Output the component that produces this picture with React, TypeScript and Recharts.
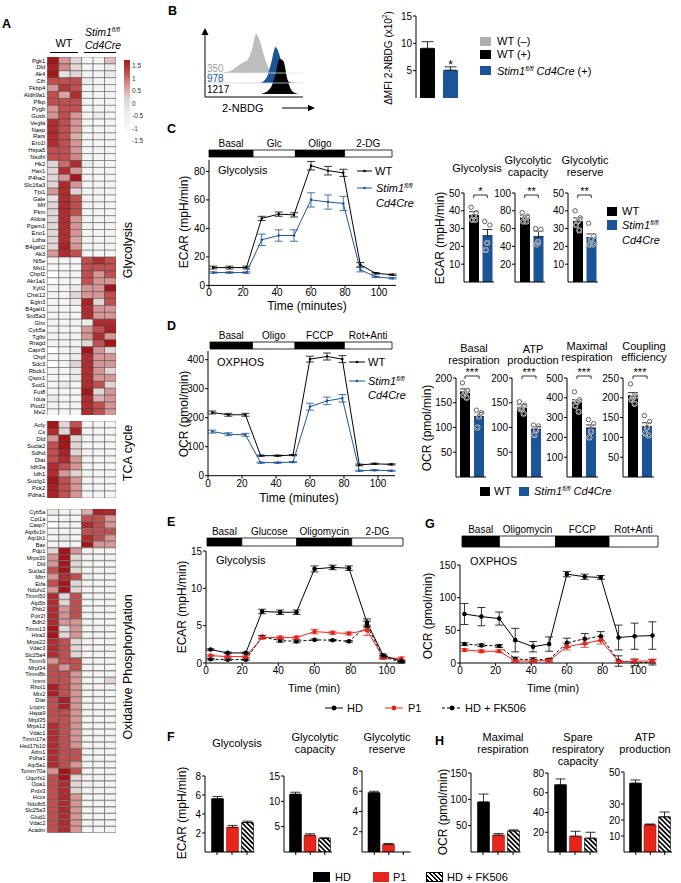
import React from 'react';
import {
  BarChart, Bar, XAxis, YAxis, LineChart, Line, ErrorBar, ComposedChart, Cell,
  AreaChart, Area, ReferenceLine,
} from 'recharts';

const FONT = '"Liberation Sans", Arial, Helvetica, sans-serif';
const NARROW = '"Liberation Sans Narrow", "Liberation Sans", Arial, sans-serif';
const BLUE = '#1b5597';
const RED = '#e6261c';

/* ---------------- Panel A: heatmap ---------------- */
const heatCols = ['WT1', 'WT2', 'WT3', 'KO1', 'KO2', 'KO3'];
const glyGenes = ['Pgk1','Dld','Ak4','Cth','Fkbp4','Aldh9a1','Pfkp','Pygb','Gusb','Vegfa','Nasp','Rars','Ero1l','Hspa5','Nsdhl','Hk2','Hax1','P4ha2','Slc16a3','Tpi1','Gale','Mif','Pkm','Aldoa','Pgam1','Eno1','Ldha','B4galt2','Ak3','Nt5e','Mxi1','Chpf2','Akr1a1','Xylt2','Chst12','Egln3','B4galt1','Srd5a3','Glrx','Cyb5a','Tgfbi','Rragd','Capn5','Chpf','Sdc3','Rbck1','Qsox1','Sod1','Fut8','Idua','Plod2','Me2'];
const glyVals = [
  [1.5,0.5,0,-1,-1,0.2],[1.4,0.6,0,-1,-1,-0.5],[1.5,-0.3,0,-1,-1,-0.5],[1,1,1,-0.5,-1,-1],
  [0.5,1.2,1,-1,-1,-1],[1,0.4,1.3,-1,-1,-1],[1,1,1,-1,-1,-1],[0.5,1,1,-1,-1,-1],
  [0.5,1,0.5,-1,-0.5,-1],[1.3,1,0.5,-1,-1,-1],[1.3,1,0.5,-1,-1,-1],[1.3,1,0.3,-1,-1,-1],
  [1.3,1,0.5,-1,-1,-1],[1,1,0.5,-1,-1,-1],[1,1,0.6,-1,-1,-1],[0,0.8,1.3,-0.5,-1,-1],
  [0,1.3,0.5,-1,-1,-1],[0,0.5,1.5,-1,-1,-1],[0,1.3,0.5,-1,-1,-1],[0.5,1.3,0,-1,-1,-1],
  [-0.3,1.3,1,-1,-1,-1],[0,1.3,1,-1,-1,-1],[0,1.3,1,-1,-1,-1],[0,1.3,0.5,-1,-1,-1],
  [0,1.3,0.5,-1,-1,-1],[0,1.3,0.5,-1,-1,-1],[0,1.3,0.4,-1,-1,-1],[0,1.4,0.5,-1,-1,-1],
  [0.5,1.3,1,-1,-1,-1],
  [-1,-1,-1,1,1.3,1],[-1,-1,-1,1,1,1],[-1.5,-1,-1,1,0.5,1],[-1.5,-1,-1,1,0.5,0.5],
  [-1,-1,-0.5,0.5,0.5,1.5],[-1,-1,0,0.5,0.5,1],[-1,-1,-0.5,1.4,0,1],[-1,-1,-1,1.3,0.5,0.5],
  [-1,-1,-1,1.3,0.5,0.5],[-1,-1,-1,-0.5,1.3,1.3],[-1,-1,-1,0.5,1,1.4],[-1,-1,-1,0.5,1.3,0.5],
  [-1,-1,-1,0,1,1.5],[-1.5,-1,-0.5,1.5,0.5,0],[-1,-1,-0.5,1.3,0.5,0.5],[-1.5,-1,0,1.3,0.5,0.5],
  [-1,-1,-0.5,1.3,0.5,0],[-1,-1,-0.5,1.3,0.5,0.5],[-1,-0.5,-1,1.3,1,0],[-1,-1,-1,1.5,0,0.5],
  [-0.5,-1,-1,1.3,0.3,0.5],[-1,-1,-1,1.3,1,0.5],[-1,-1,-1,1.3,1,0.5],
];
const tcaGenes = ['Acly','Cs','Dld','Sucla2','Sdhd','Dlat','Idh3a','Idh1','Suclg1','Pck2','Pdha1'];
const tcaVals = [
  [1.5,0,1,-1,-1,-1],[1.3,0,1.4,-1,-1,-1],[0.5,1.5,0,-1,-1,-1],[1,1.5,0,-1,-1,-1],
  [1,1.4,0,-1,-1,-1],[1,1.3,0.5,-1,-1,-1],[1.3,1,0.5,-1,-1,-1],[1.3,0.5,0,-1,-1,-1],
  [1.5,1,0.5,-1,-1,-1],[1.4,1,0.5,-1,-1,-1],[1.4,1,0.5,-1,-1,-1],
];
const oxGenes = ['Cyb5a','Cpt1a','Casp7','Atp6v1h','Atp1b1','Bax','Pdp1','Mrps30','Dld','Sucla2','Mtrr','Etfa','Ndufv2','Timm50','Atp5b','Phb2','Polr2f','Bdh2','Timm13','Htra2','Mrps22','Vdac3','Slc25a4','Timm9','Mrpl34','Timm8b','Immt','Rhot1','Mtx2','Dlat','Lrpprc','Hspa9','Mrpl35','Mrps12','Vdac1','Timm17a','Hsd17b10','Aifm1','Pdha1','Atp5a1','Tomm70a','Uqcrfs1','Opa1','Prdx3','Hccs','Ndufb5','Slc25a3','Glud1','Vdac2','Acadm'];
const oxVals = [
  [-0.5,-1,-1,0.3,1.4,1.3],[-1,-1,-1,1,1,0.5],[-1.5,-1,-1,1.3,1,0.5],[-1,-1,-1,1,1,1],
  [-1,-0.5,-1,1.3,1,0.5],[-1,-1,-1,1.5,0.5,0.5],[0,1.5,0.5,-1,-1,-1],[0.5,1.5,0,-1,-1,-1],
  [0.5,1.5,0,-1,-1,-1],[1,1.5,0,-1,-1,-1],[0.5,1.3,1,-0.5,-1,-1],[1,1.5,0,-1,-1,-1],
  [0.5,1.5,0,-1,-1,-1],[1.3,0,1,-1,-1,-1],[1.3,0,1,-1,-1,-1],[1.3,0.5,1,-1,-1,-1],
  [1.3,0.5,1,-1,-1,-1],[1.3,0.5,0.5,-1,-1,-1],[1.5,0,0.5,-1,-1,-1],[1.5,0,0.5,-1,-1,-1],
  [1.3,1,0,-1,-1,-1],[1.3,1,0,-1,-1,-1],[1.3,1,0,-1,-1,-1],[0.5,1,1,-1,-1,-1],
  [1,0.5,1,-1,-1,-1],[1,1,0.5,-1,-1,-1],[1,1,0.5,-1,-1,0],[1.4,1,0.5,-1,-1,-1],
  [1.4,1,0.5,-1,-1,-1],[1,1.4,0.5,-1,-1,-1],[1,1.4,0.5,-1,-1,-1],[1,1,0.5,-1,-1,-1],
  [1,1,0.5,-1,-1,-1],[1.3,1,0.5,-1,-1,-1],[1.3,1,0.5,-1,-1,-1],[1.3,1,0.5,-1,-1,-1],
  [1.3,1,0.5,-1,-1,-1],[1.3,1,1,-1,-1,-1],[1.3,1,1,-1,-1,-1],[1.3,1,0.5,-1,-1,-1],
  [0.5,1.5,1,-1,-1,-1],[1,1.5,0,-1,-1,-1],[1,1.3,0,-1,-1,-1],[1,1.3,0,-1,-1,-1],
  [1,1.3,0.5,-1,-1,-1],[1,1.3,0.5,-1,-1,-1],[1,1.3,0.5,-1,-1,-1],[1,1.3,0.5,-1,-1,-1],
  [1,1.3,0.5,-1,-1,-1],[1,1.3,0.5,-1,-1,-1],
];
const heatLegendTicks = ['1.5', '1', '0.5', '0', '-0.5', '-1', '-1.5'];
const heatStops = [-1.5, -1, -0.5, 0, 0.5, 1, 1.5];
const heatPalette = ['#ffffff', '#f4f4f4', '#ebebeb', '#e2d5d5', '#d69696', '#c0504f', '#a3161a'];

/* ---------------- Panel B ---------------- */
const nbdgX = [0,4,8,12,16,20,24,28,32,36,40,44,48,52,56,60,64,68,72,76,80,84,88,92,96,100];
const nbdgNeg = [0,0,0,0,0,0.5,1.5,3,6,9,11,14,24,39,32,18,7,2,0.5,0,0,0,0,0,0,0];
const nbdgKO = [0,0,0,0,0,0,0,0,0,0,0,0,0,0,0,2,8,22,36,28,12,3,0.5,0,0,0];
const nbdgWT = [0,0,0,0,0,0,0,0,0,0,0,0,0,0,0,1,3,8,20,35,33,15,4,1,0,0];
const histOffsets = [24, 14, 3];
const mfiLabels = ['350', '978', '1217'];
const bGroups = ['WT', 'KO'];
const bMeans = [9.1, 5.1];
const bErrs = [1.2, 0.6];

/* ---------------- Time courses ---------------- */
const times = [2.5, 12, 22, 31, 41, 50, 60, 70, 79, 89, 98, 108];
const cWT = [12.5,12.5,12.5,47,50,49.5,84,80.5,79,14.5,8.5,7.5];
const cWTerr = [1,1,1,1.5,1.5,1.5,3,3,2.5,1.5,0.5,0.5];
const cKO = [9,9,9,32,35,35,60,58.5,57.5,11,6,5];
const cKOerr = [0.5,0.5,0.5,4,4,4,5,5,5,1.5,0.5,0.5];
const dWT = [218,210,210,69,69,71,402,411,402,37,41,39];
const dWTerr = [5,5,5,2,2,2,10,12,12,3,2,2];
const dKO = [152,143,141,45,45,47,238,258,267,17,19,17];
const dKOerr = [5,5,5,2,2,2,12,13,13,2,2,2];
const eHD = [1.8,1.35,1.35,6.9,6.8,6.8,12.6,12.8,12.7,5.4,1.0,0.25];
const eHDerr = [0.1,0.1,0.1,0.3,0.3,0.3,0.4,0.3,0.3,0.5,0.2,0.1];
const eP1 = [1.0,0.85,0.85,3.4,3.4,3.4,4.2,4.05,3.95,4.4,0.7,0.6];
const eP1err = [0.1,0.1,0.1,0.2,0.2,0.2,0.3,0.2,0.2,0.7,0.2,0.2];
const eFK = [0.5,0.45,0.45,3.5,3.0,2.9,3.1,3.05,2.9,5.0,0.8,0.1];
const eFKerr = [0.1,0.1,0.1,0.2,0.2,0.2,0.1,0.1,0.1,0.6,0.2,0.1];
const gHD = [75,71,68,35,25,29,136,132,131,39,41,42];
const gHDerr = [16,14,10,18,8,11,4,4,3,19,20,21];
const gP1 = [20,18,18,3,3,3.5,25,30,35,2,3,3];
const gP1err = [2,2,2,2,2,2,5,6,6,2,3,3];
const gFK = [29,27,26,6,5,5,31,37,41,3,1,1];
const gFKerr = [2,2,2,3,3,2,7,8,7,8,5,4];

const drugC = [26, 25, 29, 28];
const drugCLabels = ['Basal', 'Glc', 'Oligo', '2-DG'];
const drugD = [25, 25, 29, 28];
const drugDLabels = ['Basal', 'Oligo', 'FCCP', 'Rot+Anti'];
const drugE = [19, 30, 30, 28];
const drugELabels = ['Basal', 'Glucose', 'Oligomycin', '2-DG'];
const drugG = [21, 31.5, 30, 27.5];
const drugGLabels = ['Basal', 'Oligomycin', 'FCCP', 'Rot+Anti'];

/* ---------------- C / D bar summaries ---------------- */
const cGlyWT = { mean: 37.5, err: 2, dots: [42, 39, 37, 35, 35] };
const cGlyKO = { mean: 26, err: 3.5, dots: [34, 32, 22, 18] };
const cCapWT = { mean: 72, err: 3, dots: [78, 74, 72, 68, 68] };
const cCapKO = { mean: 51, err: 6, dots: [60, 59, 45, 42] };
const cResWT = { mean: 34, err: 2, dots: [40, 36, 34, 32, 29] };
const cResKO = { mean: 25, err: 2, dots: [33, 26, 24, 21, 21] };
const dBasWT = { mean: 172, err: 6, dots: [190, 175, 170, 165, 160] };
const dBasKO = { mean: 122, err: 8, dots: [135, 130, 122, 100] };
const dAtpWT = { mean: 140, err: 6, dots: [152, 145, 138, 137, 128] };
const dAtpKO = { mean: 97, err: 5, dots: [105, 103, 95, 85] };
const dMaxWT = { mean: 378, err: 12, dots: [430, 390, 380, 360, 330] };
const dMaxKO = { mean: 248, err: 15, dots: [290, 270, 230, 200] };
const dCouWT = { mean: 205, err: 8, dots: [235, 205, 200, 195, 185] };
const dCouKO = { mean: 127, err: 10, dots: [155, 140, 125, 110, 105] };

/* ---------------- F / H ---------------- */
const triGroups = ['HD', 'P1', 'HD + FK506'];
const fGlyMean = [5.6, 2.6, 3.1];
const fGlyErr = [0.25, 0.2, 0.15];
const fCapMean = [11.4, 3.3, 2.7];
const fCapErr = [0.4, 0.3, 0.1];
const fResMean = [5.85, 0.75, 0];
const fResErr = [0.15, 0.1, 0];
const hMaxMean = [95, 32, 40];
const hMaxErr = [15, 3, 2];
const hSpareMean = [68, 16, 14];
const hSpareErr = [6, 5, 6];
const hAtpMean = [43, 17, 22];
const hAtpErr = [2, 0.5, 3];

/* ---------------- helpers ---------------- */
function hexToRgb(h: string) {
  return [parseInt(h.slice(1, 3), 16), parseInt(h.slice(3, 5), 16), parseInt(h.slice(5, 7), 16)];
}
function heatColor(v: number) {
  const x = Math.max(-1.5, Math.min(1.5, v));
  let i = 0;
  while (i < heatStops.length - 2 && x > heatStops[i + 1]) i++;
  const t = (x - heatStops[i]) / (heatStops[i + 1] - heatStops[i]);
  const a = hexToRgb(heatPalette[i]);
  const b = hexToRgb(heatPalette[i + 1]);
  return `rgb(${a.map((c, k) => Math.round(c + (b[k] - c) * t)).join(',')})`;
}

function Txt({ x, y, s = 11, a = 'middle', children, style }: any) {
  const tx = a === 'middle' ? '-50%' : a === 'end' ? '-100%' : '0';
  return (
    <div style={{ position: 'absolute', left: x, top: y, transform: `translate(${tx},-50%)`, fontSize: s, lineHeight: 1, whiteSpace: 'nowrap', ...style }}>
      {children}
    </div>
  );
}
function VTxt({ x, y, s = 12, children }: any) {
  return (
    <div style={{ position: 'absolute', left: x, top: y, transform: 'translate(-50%,-50%) rotate(-90deg)', fontSize: s, lineHeight: 1, whiteSpace: 'nowrap' }}>
      {children}
    </div>
  );
}
function Letter({ x, y, children }: any) {
  return <div style={{ position: 'absolute', left: x, top: y, fontSize: 12.5, fontWeight: 'bold', lineHeight: 1 }}>{children}</div>;
}
const Stim = ({ cre = false }: any) => (
  <span>
    <i>Stim1</i>
    <span style={{ fontSize: '0.6em', position: 'relative', top: '-0.6em' }}><i>fl/fl</i></span>
    {cre ? <i> Cd4Cre</i> : null}
  </span>
);
function Square({ x, y, w = 11, h = 10, color, hatch = false }: any) {
  return (
    <div style={{
      position: 'absolute', left: x, top: y, width: w, height: h,
      background: hatch ? 'repeating-linear-gradient(45deg, #000 0 1.6px, #fff 1.6px 3.2px)' : color,
      boxSizing: 'border-box', border: hatch ? '0.6px solid #000' : 'none',
    }} />
  );
}
function LineKey({ x, y, w, color, dash, r }: any) {
  return (
    <svg style={{ position: 'absolute', left: x, top: y - 4 }} width={w} height={8}>
      <line x1={0} y1={4} x2={w} y2={4} stroke={color} strokeWidth={1} strokeDasharray={dash} />
      <circle cx={w / 2} cy={4} r={r} fill={color} />
    </svg>
  );
}

function Heatmap({ genes, vals, top, rowH }: any) {
  const data = genes.map((g: string) => {
    const o: any = { gene: g };
    heatCols.forEach((c) => (o[c] = 1));
    return o;
  });
  const fs = Math.round(rowH * 0.86 * 10) / 10;
  return (
    <div style={{ position: 'absolute', left: 0, top }}>
      <BarChart layout="vertical" width={116} height={genes.length * rowH} data={data}
        margin={{ top: 0, right: 0, bottom: 0, left: 0 }} barCategoryGap={0} barGap={0}>
        <XAxis type="number" hide domain={[0, 6]} />
        <YAxis type="category" dataKey="gene" width={47.3} axisLine={false} tickLine={false} tickSize={0}
          tickMargin={2} interval={0} tick={{ fontSize: fs, fill: '#000', fontFamily: NARROW }} />
        {heatCols.map((c, j) => (
          <Bar key={c} dataKey={c} stackId="h" isAnimationActive={false} stroke="#3c3c3c" strokeWidth={0.45}>
            {vals.map((r: number[], i: number) => <Cell key={i} fill={heatColor(r[j])} />)}
          </Bar>
        ))}
      </BarChart>
    </div>
  );
}

function DrugBar({ x0, x1, y, h, segs, labels, fs = 10 }: any) {
  const row: any = { n: 'd' };
  segs.forEach((v: number, i: number) => (row['s' + i] = v));
  const total = segs.reduce((a: number, b: number) => a + b, 0);
  const T = 14;
  return (
    <div style={{ position: 'absolute', left: x0 - 1, top: y - T }}>
      <BarChart layout="vertical" width={x1 - x0 + 2} height={h + T + 1} data={[row]}
        margin={{ top: T, right: 1, left: 1, bottom: 1 }} barCategoryGap={0}>
        <XAxis type="number" hide domain={[0, total]} />
        <YAxis type="category" dataKey="n" hide />
        {segs.map((v: number, i: number) => (
          <Bar key={i} dataKey={'s' + i} stackId="d" fill={i % 2 === 0 ? '#000' : '#fff'} stroke="#000"
            strokeWidth={0.8} isAnimationActive={false}
            label={(p: any) => (
              <text key={'l' + i} x={p.x + p.width / 2} y={p.y - 3} textAnchor="middle" fontSize={fs} fill="#000">
                {labels[i]}
              </text>
            )} />
        ))}
      </BarChart>
    </div>
  );
}

function timeRows(cols: Record<string, number[]>) {
  return times.map((t, i) => {
    const o: any = { t };
    Object.keys(cols).forEach((k) => (o[k] = cols[k][i]));
    return o;
  });
}

function TimeChart({ x0, y0, x1, y1, rows, series, yDomain, yTicks, fs = 10, capW = 4 }: any) {
  const L = 34, T = 8, R = 8, B = 20;
  return (
    <div style={{ position: 'absolute', left: x0 - L, top: y0 - T }}>
      <LineChart width={x1 - x0 + L + R} height={y1 - y0 + T + B} data={rows}
        margin={{ top: T, right: R, left: 0, bottom: 0 }}>
        <XAxis dataKey="t" type="number" domain={[0, 110]} ticks={[0, 20, 40, 60, 80, 100]} height={B}
          stroke="#000" tickSize={3} tickMargin={1} tick={{ fontSize: fs, fill: '#000' }} allowDataOverflow />
        <YAxis type="number" domain={yDomain} ticks={yTicks} width={L} stroke="#000" tickSize={3}
          tickMargin={1} tick={{ fontSize: fs, fill: '#000' }} allowDataOverflow />
        {series.map((s: any) => (
          <Line key={s.key} dataKey={s.key} stroke={s.color} strokeWidth={1} strokeDasharray={s.dash}
            isAnimationActive={false} activeDot={false}
            dot={{ r: s.r, fill: s.color, stroke: s.color, strokeWidth: 0 }}>
            <ErrorBar dataKey={s.key + 'E'} width={capW} stroke={s.color} strokeWidth={0.8} direction="y" />
          </Line>
        ))}
      </LineChart>
    </div>
  );
}

const JIT = [-2.6, 2.6, 0, -1.6, 1.6];
function makeDot(j: number) {
  return (p: any) => {
    const k = 'dot' + j + '-' + p.index;
    if (p.cy == null || p.cx == null || Number.isNaN(p.cy) || p.value == null) return <g key={k} />;
    return (
      <g key={k}>
        <circle cx={p.cx + j} cy={p.cy} r={2.2} fill="none" stroke="#fff" strokeWidth={1.5} />
        <circle cx={p.cx + j} cy={p.cy} r={2.2} fill="none" stroke="#222" strokeWidth={0.7} />
      </g>
    );
  };
}

function DotBar({ x0, top, bottom, pad, step, yMax, ticks, wt, ko, stars, sigPx }: any) {
  const L = 26, T = 24, R = 2, B = 3;
  const plotW = pad + 2 * step;
  const mk = (g: string, s: any) => {
    const o: any = { g, m: s.mean, e: [0, s.err] };
    s.dots.forEach((d: number, i: number) => (o['d' + i] = d));
    return o;
  };
  const rows = [mk('WT', wt), mk('KO', ko)];
  const k = (bottom - top) / yMax;
  const sv = (bottom - sigPx) / k;
  const tk = 3 / k;
  return (
    <div style={{ position: 'absolute', left: x0 - L, top: top - T }}>
      <ComposedChart width={L + plotW + R} height={T + bottom - top + B} data={rows}
        margin={{ top: T, right: R, left: 0, bottom: 0 }}>
        <XAxis dataKey="g" type="category" height={B} padding={{ left: pad, right: 0 }} tick={false}
          tickLine={false} stroke="#000" />
        <YAxis type="number" domain={[0, yMax]} ticks={ticks} width={L} stroke="#000" tickSize={3}
          tickMargin={1} tick={{ fontSize: 10, fill: '#000' }} allowDataOverflow />
        <Bar dataKey="m" barSize={10} isAnimationActive={false}>
          <Cell fill="#000" />
          <Cell fill={BLUE} />
          <ErrorBar dataKey="e" width={5} stroke="#000" strokeWidth={0.8} />
        </Bar>
        {[0, 1, 2, 3, 4].map((i) => (
          <Line key={i} dataKey={'d' + i} stroke="none" dot={makeDot(JIT[i])} activeDot={false}
            isAnimationActive={false} />
        ))}
        <ReferenceLine segment={[{ x: 'WT', y: sv }, { x: 'KO', y: sv }]} stroke="#000" strokeWidth={0.8}
          ifOverflow="visible" label={{ value: stars, position: 'top', fontSize: 11, fill: '#000', offset: 0 }} />
        <ReferenceLine segment={[{ x: 'WT', y: sv }, { x: 'WT', y: sv - tk }]} stroke="#000" strokeWidth={0.8} ifOverflow="visible" />
        <ReferenceLine segment={[{ x: 'KO', y: sv }, { x: 'KO', y: sv - tk }]} stroke="#000" strokeWidth={0.8} ifOverflow="visible" />
      </ComposedChart>
    </div>
  );
}

function TripleBar({ id, x0, top, bottom, pad, step, yMax, ticks, means, errs }: any) {
  const L = 24, T = 8, R = 2, B = 5;
  const plotW = pad + 3 * step;
  const rows = triGroups.map((g, i) => ({ g, m: means[i], e: [0, errs[i]] }));
  const pid = 'hatch-' + id;
  return (
    <div style={{ position: 'absolute', left: x0 - L, top: top - T }}>
      <ComposedChart width={L + plotW + R} height={T + bottom - top + B} data={rows}
        margin={{ top: T, right: R, left: 0, bottom: 0 }}>
        <defs>
          <pattern id={pid} patternUnits="userSpaceOnUse" width={3.4} height={3.4} patternTransform="rotate(-45)">
            <rect width={3.4} height={3.4} fill="#fff" />
            <rect width={1.7} height={3.4} fill="#000" />
          </pattern>
        </defs>
        <XAxis dataKey="g" type="category" height={B} padding={{ left: pad, right: 0 }} tickFormatter={() => ''}
          tickSize={3} stroke="#000" />
        <YAxis type="number" domain={[0, yMax]} ticks={ticks} width={L} stroke="#000" tickSize={3}
          tickMargin={1} tick={{ fontSize: 10, fill: '#000' }} allowDataOverflow />
        <Bar dataKey="m" barSize={12} isAnimationActive={false} strokeWidth={0.6}>
          <Cell fill="#000" stroke="#000" />
          <Cell fill={RED} stroke="#a8160f" />
          <Cell fill={`url(#${pid})`} stroke="#000" />
          <ErrorBar dataKey="e" width={5} stroke="#000" strokeWidth={0.8} />
        </Bar>
      </ComposedChart>
    </div>
  );
}

function HistB() {
  const data = nbdgX.map((x, i) => ({
    x,
    neg: [histOffsets[0], histOffsets[0] + nbdgNeg[i]],
    ko: [histOffsets[1], histOffsets[1] + nbdgKO[i]],
    wt: [histOffsets[2], histOffsets[2] + nbdgWT[i]],
  }));
  return (
    <div style={{ position: 'absolute', left: 205, top: 30 }}>
      <AreaChart width={100} height={67} data={data} margin={{ top: 0, right: 2, left: 0, bottom: 0 }}>
        <XAxis dataKey="x" type="number" domain={[0, 100]} hide />
        <YAxis type="number" domain={[0, 67]} hide />
        <ReferenceLine y={histOffsets[0]} stroke="#e6e6e6" strokeWidth={0.8} />
        <ReferenceLine y={histOffsets[1]} stroke="#c9d8ea" strokeWidth={0.8} />
        <Area dataKey="neg" type="monotone" fill="#bdbdbd" fillOpacity={1} stroke="none" isAnimationActive={false} />
        <Area dataKey="ko" type="monotone" fill={BLUE} fillOpacity={1} stroke="none" isAnimationActive={false} />
        <Area dataKey="wt" type="monotone" fill="#000" fillOpacity={1} stroke="none" isAnimationActive={false} />
      </AreaChart>
      <svg style={{ position: 'absolute', left: -4, top: -2 }} width={104} height={70}>
        <polygon points="4,0 0.5,7 7.5,7" fill="#000" />
        <line x1={4} y1={5} x2={4} y2={69} stroke="#000" strokeWidth={1} />
        <line x1={4} y1={69} x2={102} y2={69} stroke="#000" strokeWidth={1} />
      </svg>
    </div>
  );
}

function BarB() {
  const L = 28, T = 6, R = 2, B = 2;
  const rows = bGroups.map((g, i) => ({ g, m: bMeans[i], e: [0, bErrs[i]] }));
  return (
    <div style={{ position: 'absolute', left: 416 - L, top: 16 - T }}>
      <BarChart width={L + 46 + R} height={T + 82 + B} data={rows} margin={{ top: T, right: R, left: 0, bottom: B }}>
        <XAxis dataKey="g" hide />
        <YAxis type="number" domain={[0, 15]} ticks={[0, 5, 10, 15]} width={L} stroke="#000" tickSize={3}
          tickMargin={1} tick={{ fontSize: 10, fill: '#000' }} />
        <Bar dataKey="m" barSize={15} isAnimationActive={false}
          label={(p: any) => p.index === 1
            ? <text key="star" x={p.x + p.width / 2} y={p.y - 1} textAnchor="middle" fontSize={12} fill="#000">*</text>
            : <g key="nostar" />}>
          <Cell fill="#000" />
          <Cell fill={BLUE} />
          <ErrorBar dataKey="e" width={6} stroke="#000" strokeWidth={0.8} />
        </Bar>
      </BarChart>
    </div>
  );
}

export default function App() {
  const cRows = timeRows({ wt: cWT, wtE: cWTerr, ko: cKO, koE: cKOerr });
  const dRows = timeRows({ wt: dWT, wtE: dWTerr, ko: dKO, koE: dKOerr });
  const eRows = timeRows({ hd: eHD, hdE: eHDerr, p1: eP1, p1E: eP1err, fk: eFK, fkE: eFKerr });
  const gRows = timeRows({ hd: gHD, hdE: gHDerr, p1: gP1, p1E: gP1err, fk: gFK, fkE: gFKerr });
  const wtKo = [
    { key: 'wt', color: '#000', r: 1.3 },
    { key: 'ko', color: BLUE, r: 1.3 },
  ];
  const triSeries = [
    { key: 'fk', color: '#000', r: 2.3, dash: '3 2' },
    { key: 'p1', color: RED, r: 2.3 },
    { key: 'hd', color: '#000', r: 2.3 },
  ];
  return (
    <div style={{ position: 'absolute', left: 0, top: 0, width: 681, height: 883, background: '#fff', fontFamily: FONT, color: '#000', overflow: 'hidden' }}>
      {/* ---------- A ---------- */}
      <Letter x={2} y={18}>A</Letter>
      <Txt x={64} y={43} s={11}>WT</Txt>
      <div style={{ position: 'absolute', left: 50, top: 52, width: 28, height: 0.8, background: '#000' }} />
      <Txt x={85} y={32} s={10.5} a="start"><Stim /></Txt>
      <Txt x={85} y={45} s={10.5} a="start"><i>Cd4Cre</i></Txt>
      <div style={{ position: 'absolute', left: 84, top: 52, width: 32, height: 0.8, background: '#000' }} />
      <Heatmap genes={glyGenes} vals={glyVals} top={56.7} rowH={6.9} />
      <Heatmap genes={tcaGenes} vals={tcaVals} top={420.7} rowH={7.0} />
      <Heatmap genes={oxGenes} vals={oxVals} top={509} rowH={6.48} />
      <div style={{ position: 'absolute', left: 124, top: 60, width: 5.5, height: 77, background: `linear-gradient(to bottom, ${[...heatPalette].reverse().join(',')})` }} />
      {heatLegendTicks.map((t, i) => (
        <Txt key={t} x={132} y={66 + i * 12.5} s={6.5} a="start" style={{ color: '#333' }}>{t}</Txt>
      ))}
      <VTxt x={128} y={250} s={12.5}>Glycolysis</VTxt>
      <VTxt x={128} y={453} s={12.5}>TCA cycle</VTxt>
      <VTxt x={128} y={667} s={12.5}>Oxidative Phosphorylation</VTxt>

      {/* ---------- B ---------- */}
      <Letter x={168} y={5}>B</Letter>
      <HistB />
      {mfiLabels.map((t, i) => (
        <Txt key={t} x={207} y={i === 0 ? 69 : i === 1 ? 79 : 90} s={10} a="start"
          style={{ color: i === 0 ? '#a39b94' : i === 1 ? BLUE : '#000' }}>{t}</Txt>
      ))}
      <Txt x={222} y={108} s={11} a="start">2-NBDG</Txt>
      <svg style={{ position: 'absolute', left: 282, top: 104 }} width={34} height={8}>
        <line x1={0} y1={4} x2={28} y2={4} stroke="#000" strokeWidth={1} />
        <polygon points="33,4 26,0.8 26,7.2" fill="#000" />
      </svg>
      <BarB />
      <VTxt x={388} y={58} s={10}>ΔMFI 2-NBDG (x10<sup style={{ fontSize: '0.65em' }}>2</sup>)</VTxt>
      <Square x={480} y={37} w={11} h={9} color="#b0b0b0" />
      <Square x={480} y={50} w={11} h={9} color="#000" />
      <Square x={480} y={66} w={11} h={9} color={BLUE} />
      <Txt x={497} y={41} s={11} a="start">WT (–)</Txt>
      <Txt x={497} y={54} s={11} a="start">WT (+)</Txt>
      <Txt x={497} y={71} s={11} a="start"><Stim cre /> (+)</Txt>

      {/* ---------- C ---------- */}
      <Letter x={167} y={123}>C</Letter>
      <DrugBar x0={209} x1={392} y={150} h={7} segs={drugC} labels={drugCLabels} fs={10} />
      <TimeChart x0={209} y0={159.6} x1={396} y1={285} rows={cRows} series={wtKo} yDomain={[0, 88]} yTicks={[0, 20, 40, 60, 80]} />
      <Txt x={218} y={170} s={11} a="start">Glycolysis</Txt>
      <LineKey x={357} y={171} w={15} color="#000" r={1.3} />
      <Txt x={375} y={171} s={11} a="start">WT</Txt>
      <LineKey x={357} y={188} w={15} color={BLUE} r={1.3} />
      <Txt x={376} y={188} s={11} a="start"><Stim /></Txt>
      <Txt x={376} y={203} s={11} a="start"><i>Cd4Cre</i></Txt>
      <Txt x={307} y={306} s={12}>Time (minutes)</Txt>
      <VTxt x={184} y={222} s={12}>ECAR (mpH/min)</VTxt>

      <Txt x={477} y={168} s={11}>Glycolysis</Txt>
      <Txt x={528} y={160} s={11}>Glycolytic</Txt>
      <Txt x={528} y={172} s={11}>capacity</Txt>
      <Txt x={585} y={160} s={11}>Glycolytic</Txt>
      <Txt x={585} y={172} s={11}>reserve</Txt>
      <DotBar x0={464} top={193} bottom={282} pad={3} step={13.5} yMax={50} ticks={[0, 10, 20, 30, 40, 50]} wt={cGlyWT} ko={cGlyKO} stars="*" sigPx={195} />
      <DotBar x0={515} top={193} bottom={282} pad={3} step={13.5} yMax={100} ticks={[0, 20, 40, 60, 80, 100]} wt={cCapWT} ko={cCapKO} stars="**" sigPx={195} />
      <DotBar x0={568} top={193} bottom={282} pad={3} step={13.5} yMax={50} ticks={[0, 10, 20, 30, 40, 50]} wt={cResWT} ko={cResKO} stars="**" sigPx={195} />
      <VTxt x={440} y={238} s={12}>ECAR (mpH/min)</VTxt>
      <Square x={607} y={207} w={10} h={9} color="#000" />
      <Square x={607} y={220} w={10} h={10} color={BLUE} />
      <Txt x={622} y={211} s={11} a="start">WT</Txt>
      <Txt x={622} y={225} s={11} a="start"><Stim /></Txt>
      <Txt x={622} y={240} s={11} a="start"><i>Cd4Cre</i></Txt>

      {/* ---------- D ---------- */}
      <Letter x={167} y={320}>D</Letter>
      <DrugBar x0={210} x1={392} y={342} h={7} segs={drugD} labels={drugDLabels} fs={10} />
      <TimeChart x0={208} y0={351.3} x1={395} y1={476} rows={dRows} series={wtKo} yDomain={[0, 430]} yTicks={[0, 100, 200, 300, 400]} />
      <Txt x={217} y={362} s={11} a="start">OXPHOS</Txt>
      <LineKey x={349} y={362} w={16} color="#000" r={1.3} />
      <Txt x={368} y={362} s={11} a="start">WT</Txt>
      <LineKey x={349} y={381} w={16} color={BLUE} r={1.3} />
      <Txt x={368} y={381} s={11} a="start"><Stim /></Txt>
      <Txt x={368} y={395} s={11} a="start"><i>Cd4Cre</i></Txt>
      <Txt x={299} y={498} s={12}>Time (minutes)</Txt>
      <VTxt x={184} y={414} s={12}>OCR (pmol/min)</VTxt>

      <Txt x={474} y={348} s={11}>Basal</Txt>
      <Txt x={474} y={360} s={11}>respiration</Txt>
      <Txt x={533} y={349} s={11}>ATP</Txt>
      <Txt x={533} y={360} s={11}>production</Txt>
      <Txt x={587} y={346} s={11}>Maximal</Txt>
      <Txt x={587} y={357} s={11}>respiration</Txt>
      <Txt x={644} y={346} s={11}>Coupling</Txt>
      <Txt x={644} y={357} s={11}>efficiency</Txt>
      <DotBar x0={456} top={378} bottom={477} pad={2} step={14} yMax={200} ticks={[0, 50, 100, 150, 200]} wt={dBasWT} ko={dBasKO} stars="***" sigPx={376} />
      <DotBar x0={512} top={378} bottom={477} pad={3} step={14} yMax={200} ticks={[0, 50, 100, 150, 200]} wt={dAtpWT} ko={dAtpKO} stars="***" sigPx={376} />
      <DotBar x0={567} top={378} bottom={477} pad={3} step={14} yMax={500} ticks={[0, 100, 200, 300, 400, 500]} wt={dMaxWT} ko={dMaxKO} stars="***" sigPx={376} />
      <DotBar x0={623} top={378} bottom={477} pad={3} step={14} yMax={250} ticks={[0, 50, 100, 150, 200, 250]} wt={dCouWT} ko={dCouKO} stars="***" sigPx={376} />
      <VTxt x={427} y={428} s={12}>OCR (pmol/min)</VTxt>
      <Square x={480} y={487} w={10} h={9} color="#000" />
      <Txt x={494} y={491} s={11} a="start">WT</Txt>
      <Square x={519} y={487} w={10} h={9} color={BLUE} />
      <Txt x={534} y={491} s={11} a="start"><Stim cre /></Txt>

      {/* ---------- E ---------- */}
      <Letter x={167} y={516}>E</Letter>
      <DrugBar x0={207} x1={403} y={538} h={8} segs={drugE} labels={drugELabels} fs={10} />
      <TimeChart x0={206} y0={551} x1={405} y1={663} rows={eRows} series={triSeries} yDomain={[0, 15]} yTicks={[0, 5, 10, 15]} />
      <Txt x={216} y={560} s={11} a="start">Glycolysis</Txt>
      <Txt x={314} y={688} s={11}>Time (min)</Txt>
      <VTxt x={182} y={607} s={12}>ECAR (mpH/min)</VTxt>

      {/* ---------- G ---------- */}
      <Letter x={425} y={518}>G</Letter>
      <DrugBar x0={462} x1={658} y={536} h={11} segs={drugG} labels={drugGLabels} fs={10} />
      <TimeChart x0={460} y0={565} x1={656} y1={663} rows={gRows} series={triSeries} yDomain={[0, 150]} yTicks={[0, 50, 100, 150]} />
      <Txt x={470} y={561} s={11} a="start">OXPHOS</Txt>
      <Txt x={553} y={688} s={11}>Time (min)</Txt>
      <VTxt x={428} y={616} s={12}>OCR (pmol/min)</VTxt>

      {/* E/G legend */}
      <LineKey x={325} y={708} w={18} color="#000" r={2.4} />
      <Txt x={347} y={708} s={11} a="start">HD</Txt>
      <LineKey x={385} y={708} w={18} color={RED} r={2.4} />
      <Txt x={408} y={708} s={11} a="start">P1</Txt>
      <LineKey x={442} y={708} w={20} color="#000" r={2.4} dash="3 2" />
      <Txt x={465} y={708} s={11} a="start">HD + FK506</Txt>

      {/* ---------- F ---------- */}
      <Letter x={167} y={731}>F</Letter>
      <Txt x={237} y={743} s={11}>Glycolysis</Txt>
      <Txt x={315} y={737} s={11}>Glycolytic</Txt>
      <Txt x={315} y={749} s={11}>capacity</Txt>
      <Txt x={387} y={737} s={11}>Glycolytic</Txt>
      <Txt x={387} y={749} s={11}>reserve</Txt>
      <TripleBar id="f1" x0={205} top={776} bottom={852} pad={4.5} step={15} yMax={8} ticks={[0, 2, 4, 6, 8]} means={fGlyMean} errs={fGlyErr} />
      <TripleBar id="f2" x0={284} top={776} bottom={852} pad={4.5} step={14.5} yMax={15} ticks={[0, 5, 10, 15]} means={fCapMean} errs={fCapErr} />
      <TripleBar id="f3" x0={362} top={771} bottom={852} pad={5} step={14.5} yMax={8} ticks={[0, 2, 4, 6, 8]} means={fResMean} errs={fResErr} />
      <VTxt x={182} y={813} s={12}>ECAR (mpH/min)</VTxt>

      {/* ---------- H ---------- */}
      <Letter x={435} y={735}>H</Letter>
      <Txt x={503} y={737} s={11}>Maximal</Txt>
      <Txt x={503} y={749} s={11}>respiration</Txt>
      <Txt x={578} y={737} s={11}>Spare</Txt>
      <Txt x={578} y={749} s={11}>respiratory</Txt>
      <Txt x={578} y={761} s={11}>capacity</Txt>
      <Txt x={645} y={737} s={11}>ATP</Txt>
      <Txt x={645} y={749} s={11}>production</Txt>
      <TripleBar id="h1" x0={471} top={773} bottom={852} pad={4.5} step={15} yMax={150} ticks={[0, 50, 100, 150]} means={hMaxMean} errs={hMaxErr} />
      <TripleBar id="h2" x0={548} top={773} bottom={852} pad={4.5} step={15} yMax={80} ticks={[0, 20, 40, 60, 80]} means={hSpareMean} errs={hSpareErr} />
      <TripleBar id="h3" x0={624} top={772} bottom={852} pad={4.5} step={14.5} yMax={50} ticks={[0, 10, 20, 30, 40, 50]} means={hAtpMean} errs={hAtpErr} />
      <VTxt x={443} y={812} s={12}>OCR (pmol/min)</VTxt>

      {/* bottom legend */}
      <Square x={313} y={872} w={17} h={10} color="#000" />
      <Txt x={335} y={877} s={11} a="start">HD</Txt>
      <Square x={373} y={872} w={16} h={10} color={RED} />
      <Txt x={393} y={877} s={11} a="start">P1</Txt>
      <Square x={426} y={872} w={17} h={10} hatch />
      <Txt x={447} y={877} s={11} a="start">HD + FK506</Txt>
    </div>
  );
}
